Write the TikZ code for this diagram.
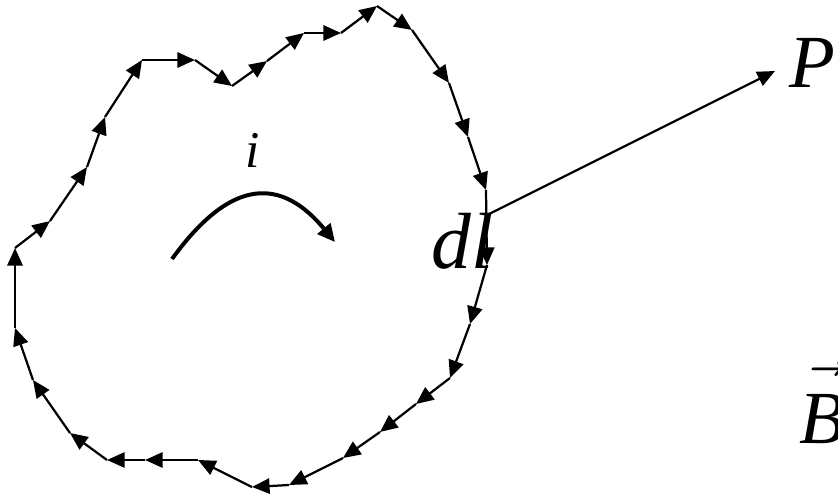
\RequirePackage{fix-cm}
\documentclass[tikz,border=0pt]{standalone}
\usepackage{fontspec}
\setmainfont{Liberation Serif}
\usetikzlibrary{arrows.meta}

\begin{document}
\begin{tikzpicture}[
                x=0.03cm,
                y=-0.03cm,
                segment/.style={
                    line width=1.9pt,
                    -{Triangle[length=15pt,width=13pt]}
                },
                current/.style={
                    line width=3.4pt,
                    -{Triangle[length=15pt,width=14pt]}
                },
                ray/.style={
                    line width=1.9pt,
                    -{Triangle[length=15pt,width=13pt]}
                },
                label/.style={
                    inner sep=0pt,
                    anchor=base west,
                    font=\fontsize{64}{70}\selectfont\itshape
                }
            ]

                \useasboundingbox (0,0) rectangle (838,499);

                % corners of the loop
                \node[coordinate] (v1) at (15,248) {};
                \node[coordinate] (v2) at (50,221) {};
                \node[coordinate] (v3) at (87,167) {};
                \node[coordinate] (v4) at (105,117) {};
                \node[coordinate] (v5) at (142,60) {};
                \node[coordinate] (v6) at (195,60) {};
                \node[coordinate] (v7) at (232,86) {};
                \node[coordinate] (v8) at (267,61) {};
                \node[coordinate] (v9) at (304,33) {};
                \node[coordinate] (v10) at (341,33) {};
                \node[coordinate] (v11) at (377,6) {};
                \node[coordinate] (v12) at (412,30) {};
                \node[coordinate] (v13) at (449,83) {};
                \node[coordinate] (v14) at (468,137) {};
                \node[coordinate] (v15) at (486,190) {};
                \node[coordinate] (v16) at (487,265) {};
                \node[coordinate] (v17) at (470,324) {};
                \node[coordinate] (v18) at (450,378) {};
                \node[coordinate] (v19) at (416,404) {};
                \node[coordinate] (v20) at (380,432) {};
                \node[coordinate] (v21) at (343,458) {};
                \node[coordinate] (v22) at (289,485) {};
                \node[coordinate] (v23) at (252,487) {};
                \node[coordinate] (v24) at (198,460) {};
                \node[coordinate] (v25) at (145,460) {};
                \node[coordinate] (v26) at (107,460) {};
                \node[coordinate] (v27) at (70,433) {};
                \node[coordinate] (v28) at (33,380) {};
                \node[coordinate] (v29) at (15,328) {};

                \foreach \a/\b in {v1/v2, v2/v3, v3/v4, v4/v5, v5/v6, v6/v7,
                        v7/v8, v8/v9, v9/v10, v10/v11, v11/v12, v12/v13,
                        v13/v14, v14/v15, v15/v16, v16/v17, v17/v18, v18/v19,
                        v19/v20, v20/v21, v21/v22, v22/v23, v23/v24, v24/v25,
                        v25/v26, v26/v27, v27/v28, v28/v29, v29/v1}
                    \draw[segment] (\a) -- (\b);

                % sense of the current
                \node[coordinate] (c1) at (172,259) {};
                \node[coordinate] (c2) at (335,242) {};
                \draw[current] (c1) .. controls (232,176) and (282,178) .. (c2);

                % from the element to the field point
                \node[coordinate] (src) at (487,215) {};
                \node[coordinate] (tip) at (775,71) {};
                \draw[ray] (src) -- (tip);

                \node[label] (P) at (789,87) {P};
                \node[label, font=\fontsize{68}{74}\selectfont\itshape] (dl) at (431,268) {dl};
                \node[label, font=\fontsize{44}{50}\selectfont\itshape] (i) at (245,167) {i};
                \node[label] (B) at (799,443) {\rlap{\raisebox{9pt}{$\vec{\phantom{\hbox{\itshape B}}}$}}B};

            \end{tikzpicture}
\end{document}
